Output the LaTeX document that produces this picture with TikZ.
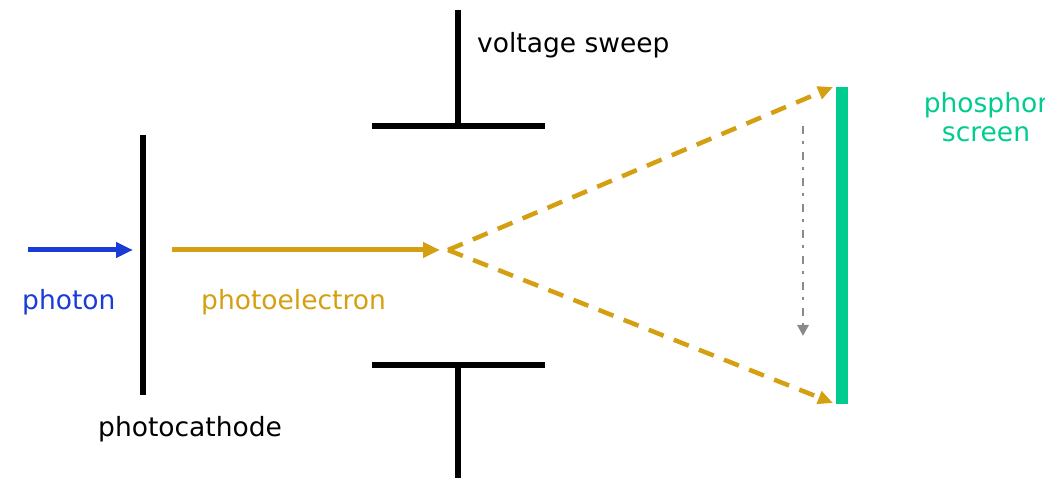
\documentclass[tikz,border=0pt]{standalone}
\usepackage{fontspec}
\setmainfont{DejaVu Sans}
\usetikzlibrary{arrows.meta}
\definecolor{photonblue}{HTML}{1A3CD6}
\definecolor{egold}{HTML}{D49F10}
\definecolor{scrgreen}{HTML}{00CC8F}
\definecolor{sweepgray}{HTML}{8A8A8A}
\begin{document}
\begin{tikzpicture}[x=1pt,y=-1pt,
  lbl/.style={font=\fontsize{26.5}{29}\selectfont, inner sep=0pt, anchor=base west},
  plate/.style={line width=6.5pt, black},
  beam/.style={line width=5pt, -{Triangle[length=17pt,width=15pt]}},
  dashbeam/.style={line width=4.5pt, egold, dash pattern=on 16pt off 11pt, -{Triangle[length=15pt,width=13pt]}},
  sweeparrow/.style={line width=2.8pt, sweepgray, dash pattern=on 8pt off 7pt on 3pt off 8pt, -{Triangle[length=11pt,width=11pt]}}]
\useasboundingbox (0,0) rectangle (1045,478);
% coordinates
\coordinate (pstart) at (28,250);
\coordinate (pend) at (133,250);
\coordinate (cathtop) at (143,135);
\coordinate (cathbot) at (143,395);
\coordinate (estart) at (172,250);
\coordinate (eend) at (440,250);
\coordinate (focus) at (448,250);
\coordinate (hitTop) at (833,87);
\coordinate (hitBot) at (833,403);
\coordinate (uvtop) at (458,10);
\coordinate (uvbot) at (458,126);
\coordinate (uhl) at (372,126);
\coordinate (uhr) at (545,126);
\coordinate (lvtop) at (458,365);
\coordinate (lvbot) at (458,478);
\coordinate (lhl) at (372,365);
\coordinate (lhr) at (545,365);
\coordinate (swtop) at (803,126);
\coordinate (swbot) at (803,336);
% screen
\node[fill=scrgreen, inner sep=0pt, minimum width=12pt, minimum height=317pt] (screen) at (842,245.5) {};
% plates
\draw[plate] (cathtop) -- (cathbot);
\draw[plate] (uvtop) -- (uvbot);
\draw[plate] (uhl) -- (uhr);
\draw[plate] (lhl) -- (lhr);
\draw[plate] (lvtop) -- (lvbot);
% beams
\draw[beam, photonblue] (pstart) -- (pend);
\draw[beam, egold] (estart) -- (eend);
\draw[dashbeam] (focus) -- (hitTop);
\draw[dashbeam] (focus) -- (hitBot);
\draw[sweeparrow] (swtop) -- (swbot);
% labels
\node[lbl] (vs) at (477,53) {voltage sweep};
\node[lbl, text=photonblue] (ph) at (22,310) {photon};
\node[lbl, text=egold] (pe) at (201,310) {photoelectron};
\node[lbl] (pc) at (98,437) {photocathode};
\node[font=\fontsize{26.5}{29}\selectfont, inner sep=0pt, align=center, anchor=base, text=scrgreen] (ps) at (986,142) {phosphor\\screen};
\end{tikzpicture}
\end{document}
